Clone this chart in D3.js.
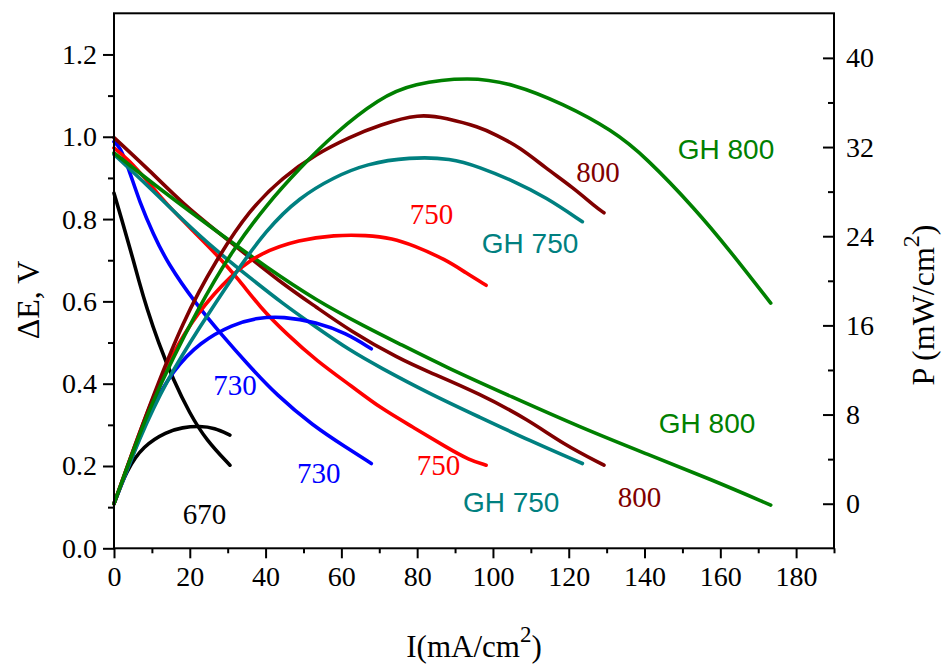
<!DOCTYPE html>
<html>
<head>
<meta charset="utf-8">
<script src="https://cdn.jsdelivr.net/npm/d3@7"></script>
<style>
  html, body { margin: 0; padding: 0; background: #fff; }
  svg { display: block; }
</style>
</head>
<body>
<svg id="chart" width="945" height="666"></svg>
<script>
// ---------- tick labels ----------
const xTicks = [0, 20, 40, 60, 80, 100, 120, 140, 160, 180];
const xMinor = [10, 30, 50, 70, 90, 110, 130, 150, 170, 190];
const yLeftTicks = [0.0, 0.2, 0.4, 0.6, 0.8, 1.0, 1.2];
const yLeftMinor = [0.1, 0.3, 0.5, 0.7, 0.9, 1.1];
const yRightTicks = [0, 8, 16, 24, 32, 40];
const yRightMinor = [4, 12, 20, 28, 36];

// ---------- data: voltage (ΔE, V) vs current (mA/cm2) ----------
const v670_I = [0, 2.0, 4.2, 6.7, 8.6, 11.7, 15.6, 20.0, 24.4, 30.6];
const v670_V = [0.863, 0.80, 0.73, 0.645, 0.585, 0.50, 0.41, 0.327, 0.262, 0.202];

const v730_I = [0, 1.6, 3.8, 6.8, 10.4, 14.0, 21.5, 28.8, 35.0, 42.9, 52.5, 61.3, 67.9];
const v730_V = [0.988, 0.975, 0.925, 0.840, 0.763, 0.695, 0.595, 0.515, 0.450, 0.372, 0.298, 0.245, 0.206];

const v750_I = [0, 3.8, 9.5, 13.9, 20.9, 27.0, 33.2, 38.5, 45.5, 53.4, 63.0, 70.1, 78.8, 87.6, 93.8, 98.2];
const v750_V = [0.973, 0.945, 0.885, 0.836, 0.771, 0.715, 0.65, 0.586, 0.521, 0.456, 0.392, 0.342, 0.295, 0.246, 0.214, 0.202];

const vGH750_I = [0, 9.5, 18.3, 27.0, 35.8, 44.6, 53.4, 62.2, 70.1, 83.2, 96.4, 109.6, 123.6];
const vGH750_V = [0.957, 0.876, 0.796, 0.723, 0.658, 0.594, 0.537, 0.481, 0.44, 0.376, 0.319, 0.262, 0.206];

const v800_I = [0, 9.5, 18.3, 27.0, 35.8, 44.6, 53.4, 62.2, 75.3, 83.2, 96.4, 109.6, 118.4, 129.3];
const v800_V = [0.998, 0.917, 0.836, 0.771, 0.707, 0.642, 0.586, 0.529, 0.46, 0.428, 0.376, 0.311, 0.254, 0.202];

const vGH800_I = [0, 13.9, 27.0, 40.2, 53.4, 66.6, 75.3, 87.6, 105.2, 122.8, 140.3, 157.9, 173.3];
const vGH800_V = [0.961, 0.86, 0.771, 0.683, 0.602, 0.537, 0.497, 0.44, 0.367, 0.295, 0.23, 0.166, 0.105];

// ---------- data: power density (mW/cm2) vs current ----------
const p670_I = [0, 3.3, 7.7, 13.9, 18.0, 22.7, 26.5, 30.6];
const p670_P = [0, 3.0, 5.2, 6.46, 6.85, 6.97, 6.8, 6.16];

const p730_I = [0, 5.1, 9.5, 15.6, 22.7, 31.4, 38.0, 44.6, 53.4, 61.3, 67.9];
const p730_P = [0, 4.5, 8.4, 12.0, 14.5, 16.1, 16.7, 16.8, 16.3, 15.3, 13.9];

const p750_I = [0, 5.0, 10.0, 15.0, 21.8, 31.4, 38.5, 49.0, 58.1, 66.6, 73.6, 78.8, 87.6, 92.9, 98.2];
const p750_P = [0, 4.8, 9.3, 13.2, 17.1, 20.7, 22.5, 23.7, 24.1, 24.1, 23.8, 23.2, 21.9, 20.7, 19.6];

const pGH750_I = [0, 6.8, 13.9, 22.7, 31.4, 40.2, 49.0, 58.1, 66.6, 78.0, 89.0, 96.4, 105.2, 114.0, 123.6];
const pGH750_P = [0, 6.0, 11.1, 15.9, 20.4, 24.6, 27.5, 29.3, 30.5, 31.1, 31.0, 30.2, 29.0, 27.5, 25.3];

const p800_I = [0, 9.5, 18.3, 27.0, 35.8, 44.6, 53.4, 62.2, 70.1, 80.6, 87.6, 96.4, 100.8, 107.0, 114.0, 121.0, 127.2, 129.3];
const p800_P = [0, 9.0, 16.5, 21.9, 26.4, 29.3, 31.4, 32.9, 34.0, 35.0, 34.6, 33.8, 33.1, 32.0, 30.1, 28.4, 26.6, 26.1];

const pGH800_I = [0, 9.5, 22.7, 31.4, 40.2, 49.0, 58.1, 70.1, 78.8, 93.8, 105.2, 118.4, 131.6, 140.3, 153.5, 162.3, 173.3];
const pGH800_P = [0, 9.0, 17.9, 22.8, 26.8, 30.1, 33.2, 36.4, 37.7, 38.3, 37.7, 35.9, 33.5, 31.1, 26.4, 22.8, 18.0];

// ---------- series and labels ----------
const seriesNames = ["670", "730", "750", "GH 750", "800", "GH 800"];
const seriesColors = ["#000000", "#0000ff", "#ff0000", "#008080", "#800000", "#008000"];

// label text, series index, I position, value on left axis scale (baseline)
const labelText = ["670", "730", "730", "750", "750", "GH 750", "GH 750", "800", "800", "GH 800", "GH 800"];
const labelSeries = [0, 1, 1, 2, 2, 3, 3, 4, 4, 5, 5];
const labelI = [23.9, 31.9, 54.0, 83.8, 85.6, 109.8, 104.8, 127.7, 138.7, 161.5, 156.5];
const labelV = [0.059, 0.372, 0.158, 0.788, 0.178, 0.718, 0.089, 0.89, 0.10, 0.946, 0.279];

const vSeries = [
  [v670_I, v670_V], [v730_I, v730_V], [v750_I, v750_V],
  [vGH750_I, vGH750_V], [v800_I, v800_V], [vGH800_I, vGH800_V]
];
const pSeries = [
  [p670_I, p670_P], [p730_I, p730_P], [p750_I, p750_P],
  [pGH750_I, pGH750_P], [p800_I, p800_P], [pGH800_I, pGH800_P]
];

// ---------- layout ----------
const svg = d3.select("#chart");
const L = 114, R = 834, T = 13.3, B = 548.3;
const serif = "'Times New Roman', 'Liberation Serif', serif";
const sans = "Arial, 'Liberation Sans', sans-serif";

const x = d3.scaleLinear().domain([0, 190]).range([L, R]);
const yL = d3.scaleLinear().domain([0, 1.3]).range([B, T]);
const yR = d3.scaleLinear().domain([-4, 44]).range([B, T]);

// ---------- curves ----------
const curves = svg.append("g").attr("fill", "none").attr("stroke-width", 3.6)
  .attr("stroke-linejoin", "round").attr("stroke-linecap", "round");

function drawSeries(arr, yScale, i) {
  const pts = arr[0].map((d, k) => [d, arr[1][k]]);
  const line = d3.line()
    .x(d => x(d[0])).y(d => yScale(d[1]))
    .curve(d3.curveBasis);
  curves.append("path").attr("d", line(pts)).attr("stroke", seriesColors[i]);
}
vSeries.forEach((s, i) => drawSeries(s, yL, i));
pSeries.forEach((s, i) => drawSeries(s, yR, i));

// ---------- axes ----------
const axisStyle = g => {
  g.selectAll("path, line").attr("stroke", "#000").attr("stroke-width", 2);
  g.selectAll("text").attr("font-family", serif).attr("font-size", 28).attr("fill", "#000");
};

// bottom
const gx = svg.append("g").attr("transform", `translate(0,${B})`)
  .call(d3.axisBottom(x).tickValues(xTicks).tickSize(10).tickSizeOuter(0).tickPadding(8).tickFormat(d3.format("d")))
  .call(axisStyle);
gx.select(".domain").remove();
svg.append("g").attr("transform", `translate(0,${B})`)
  .call(d3.axisBottom(x).tickValues(xMinor).tickSize(5).tickSizeOuter(0).tickFormat(""))
  .call(axisStyle).select(".domain").remove();

// left
const gyl = svg.append("g").attr("transform", `translate(${L},0)`)
  .call(d3.axisLeft(yL).tickValues(yLeftTicks).tickSize(11).tickSizeOuter(0).tickPadding(6).tickFormat(d3.format(".1f")))
  .call(axisStyle);
gyl.select(".domain").remove();
svg.append("g").attr("transform", `translate(${L},0)`)
  .call(d3.axisLeft(yL).tickValues(yLeftMinor).tickSize(6).tickSizeOuter(0).tickFormat(""))
  .call(axisStyle).select(".domain").remove();

// right (ticks inward)
const gyr = svg.append("g").attr("transform", `translate(${R},0)`)
  .call(d3.axisRight(yR).tickValues(yRightTicks).tickSizeInner(-11).tickSizeOuter(0).tickPadding(12).tickFormat(d3.format("d")))
  .call(axisStyle);
gyr.select(".domain").remove();
svg.append("g").attr("transform", `translate(${R},0)`)
  .call(d3.axisRight(yR).tickValues(yRightMinor).tickSizeInner(-6).tickSizeOuter(0).tickFormat(""))
  .call(axisStyle).select(".domain").remove();

// frame
svg.append("rect").attr("x", L).attr("y", T).attr("width", R - L).attr("height", B - T)
  .attr("fill", "none").attr("stroke", "#000").attr("stroke-width", 2);

// ---------- axis titles ----------
const xt = svg.append("text").attr("x", (L + R) / 2).attr("y", 657)
  .attr("text-anchor", "middle").attr("font-family", serif).attr("font-size", 31).attr("fill", "#000");
xt.append("tspan").text("I(mA/cm");
xt.append("tspan").attr("dy", -15).attr("font-size", 23).text("2");
xt.append("tspan").attr("dy", 15).text(")");

svg.append("text").attr("transform", "translate(39,300) rotate(-90)")
  .attr("text-anchor", "middle").attr("font-family", serif).attr("font-size", 32).attr("fill", "#000")
  .text("ΔE, V");

const yt = svg.append("text").attr("transform", "translate(934,305) rotate(-90)")
  .attr("text-anchor", "middle").attr("font-family", serif).attr("font-size", 32).attr("fill", "#000");
yt.append("tspan").text("P (mW/cm");
yt.append("tspan").attr("dy", -15).attr("font-size", 24).text("2");
yt.append("tspan").attr("dy", 15).text(")");

// ---------- curve labels ----------
svg.append("g").selectAll("text").data(labelText).join("text")
  .attr("x", (d, i) => x(labelI[i]))
  .attr("y", (d, i) => yL(labelV[i]))
  .attr("text-anchor", "middle")
  .attr("font-family", d => d.startsWith("GH") ? sans : serif)
  .attr("font-size", d => d.startsWith("GH") ? 28 : 29)
  .attr("fill", (d, i) => seriesColors[labelSeries[i]])
  .text(d => d);
</script>
</body>
</html>
